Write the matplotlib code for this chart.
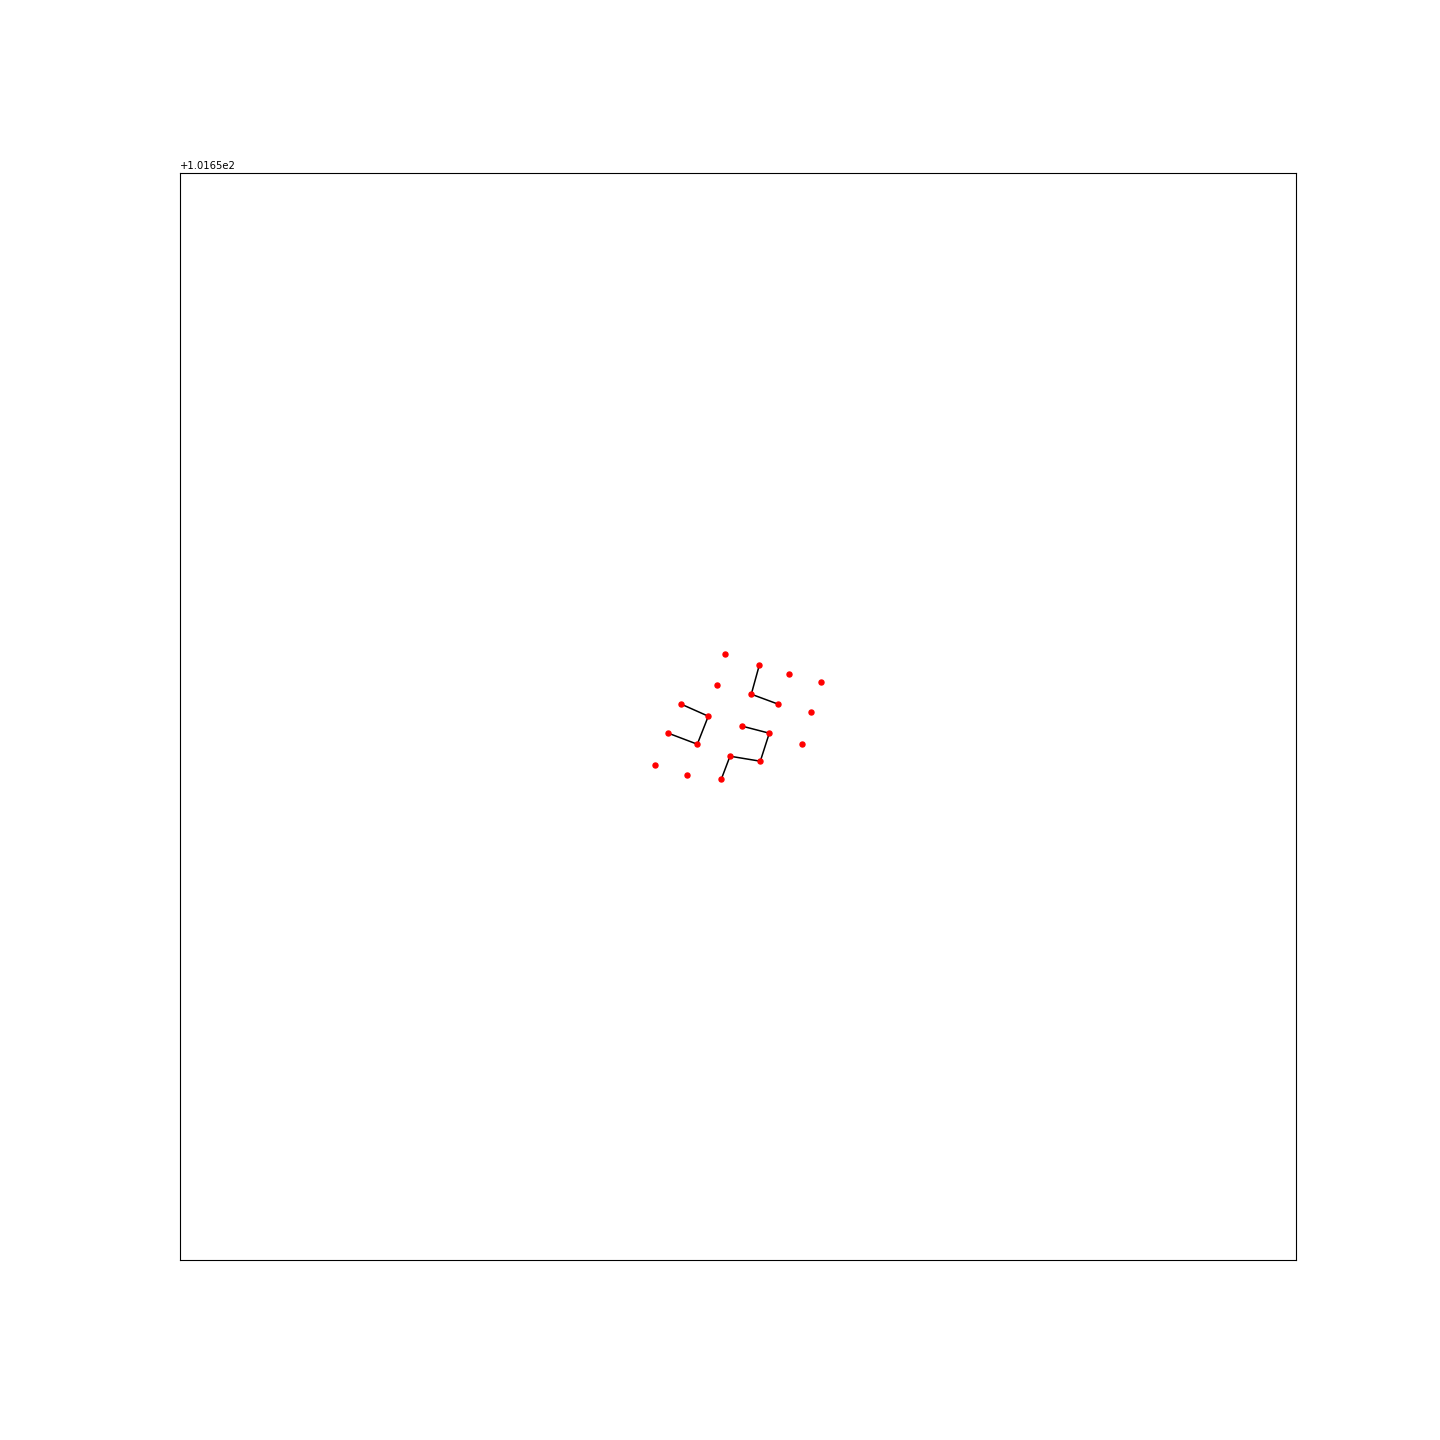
import numpy as np
import matplotlib
matplotlib.use("Agg")
import matplotlib.pyplot as plt

# point positions (x, y)
pts_x = [725.3, 759.3, 789.3, 821.3, 717.3, 751.3, 778.3, 811.3, 681.3, 708.3,
         742.3, 769.3, 802.3, 668.3, 697.3, 730.0, 760.3, 655.3, 687.3, 721.3]
pts_y = [654.3, 665.3, 674.3, 682.3, 685.3, 694.3, 704.3, 712.3, 704.3, 716.3,
         726.3, 733.3, 744.3, 733.3, 744.3, 756.3, 761.3, 765.3, 775.3, 779.3]

# chains of connected points (indices into the arrays above)
chains = [
    [1, 5, 6],
    [8, 9, 14, 13],
    [10, 11, 16, 15, 19],
]

x = np.array(pts_x) - 180
y = 1260 - np.array(pts_y)

fig = plt.figure(figsize=(14.4, 14.4), dpi=100)
ax = fig.add_axes([0.125, 0.125, 0.775, 0.755])

for c in chains:
    ax.plot(x[c], y[c], color="black", lw=1.1, zorder=1)
ax.plot(x, y, "o", color="red", markersize=3.6, zorder=2)

ax.set_xlim(0, 1116)
ax.set_ylim(0, 1087)
ax.set_xticks([])
ax.set_yticks([])
ax.text(0, 1.002, "+1.0165e2", transform=ax.transAxes, fontsize=7.2,
        ha="left", va="bottom")

plt.savefig("out.png")
